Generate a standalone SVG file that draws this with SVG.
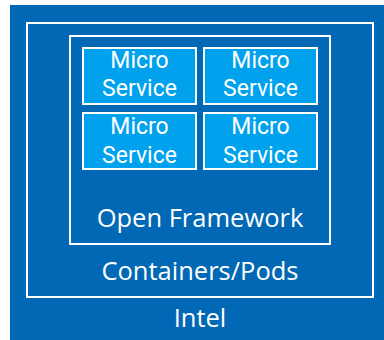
<svg xmlns="http://www.w3.org/2000/svg" width="384" height="340" viewBox="0 0 384 340">
<style>
.frame{fill:none;stroke:#FFFFFF;stroke-width:2}
.ms{fill:#00A2ED;stroke:#FFFFFF;stroke-width:2}
.t{fill:#FFFFFF;font-family:"Open Sans","Liberation Sans",sans-serif;text-anchor:middle}
.ts{font-family:Roboto,"Liberation Sans",sans-serif;font-size:23px}
.tl{font-size:25.5px}
</style>
<rect x="0" y="0" width="384" height="340" fill="#FFFFFF"/>
<g id="intel">
<rect x="10" y="5" width="374" height="335" fill="#0068B4"/>
<text class="t tl" x="200" y="327">Intel</text>
</g>
<g id="containers">
<rect class="frame" x="27" y="23" width="346" height="274"/>
<text class="t tl" x="200" y="280">Containers/Pods</text>
</g>
<g id="framework">
<rect class="frame" x="70" y="36" width="260" height="208"/>
<text class="t tl" x="200" y="227">Open Framework</text>
</g>
<g id="ms1">
<rect class="ms" x="83" y="48" width="113" height="56"/>
<text class="t ts" x="139.5" y="68">Micro</text>
<text class="t ts" x="139.5" y="96">Service</text>
</g>
<g id="ms2">
<rect class="ms" x="204" y="48" width="113" height="56"/>
<text class="t ts" x="260.5" y="68">Micro</text>
<text class="t ts" x="260.5" y="96">Service</text>
</g>
<g id="ms3">
<rect class="ms" x="83" y="113" width="113" height="56"/>
<text class="t ts" x="139.5" y="134">Micro</text>
<text class="t ts" x="139.5" y="162.5">Service</text>
</g>
<g id="ms4">
<rect class="ms" x="204" y="113" width="113" height="56"/>
<text class="t ts" x="260.5" y="134">Micro</text>
<text class="t ts" x="260.5" y="162.5">Service</text>
</g>
<g id="connectors"></g>
</svg>
